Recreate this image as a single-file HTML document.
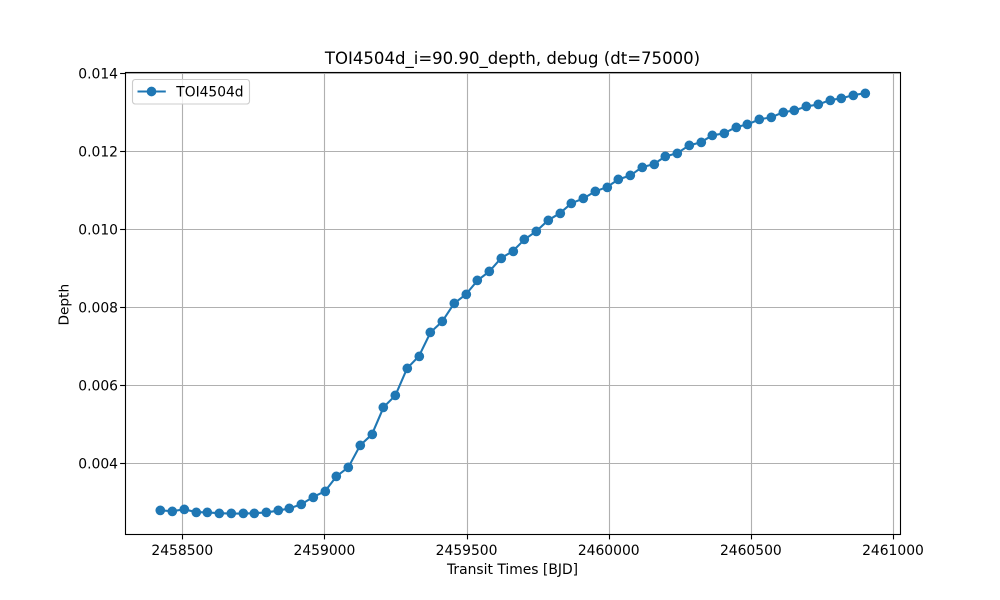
<!DOCTYPE html>
<html>
<head>
<meta charset="utf-8">
<title>TOI4504d depth chart</title>
<style>
html,body{margin:0;padding:0;background:#fff;}
svg{display:block;font-family:"DejaVu Sans","Liberation Sans",sans-serif;}
</style>
</head>
<body>
<svg id="chart" xmlns="http://www.w3.org/2000/svg" width="1000" height="600" viewBox="0 0 1000 600">
  <rect x="0" y="0" width="1000" height="600" fill="#ffffff"/>
  <rect x="125" y="72" width="775" height="462" fill="#ffffff"/>
  <g id="grid"></g>
  <g id="series"></g>
  <g id="ticks"></g>
  <rect x="125.5" y="72.5" width="775" height="462" fill="none" stroke="#000000" stroke-width="1.11"/>
  <text x="512.5" y="64" font-size="16.54" text-anchor="middle" fill="#000">TOI4504d_i=90.90_depth, debug (dt=75000)</text>
  <text x="512.5" y="574" font-size="13.89" text-anchor="middle" fill="#000">Transit Times [BJD]</text>
  <text transform="translate(68.5,304.7) rotate(-90)" font-size="13.7" text-anchor="middle" fill="#000">Depth</text>
  <g>
    <rect x="132.5" y="79.5" width="117" height="24.5" rx="2.8" ry="2.8" fill="#ffffff" fill-opacity="0.8" stroke="#cccccc" stroke-width="1.11"/>
    <line x1="137.5" y1="91.5" x2="165.8" y2="91.5" stroke="#1f77b4" stroke-width="2.08"/>
    <circle cx="151.5" cy="91.5" r="4.86" fill="#1f77b4"/>
    <text x="176.3" y="96.4" font-size="13.8" fill="#000">TOI4504d</text>
  </g>
</svg>
<script>
const transitTimes = [
  2458421.6, 2458462.9, 2458504.2, 2458545.5, 2458586.8, 2458628.2, 2458669.5, 2458710.8,
  2458752.1, 2458793.4, 2458834.7, 2458876.0, 2458917.3, 2458958.6, 2458999.9, 2459041.3,
  2459082.6, 2459123.9, 2459165.2, 2459206.5, 2459247.8, 2459289.1, 2459330.4, 2459371.7,
  2459413.0, 2459454.4, 2459495.7, 2459537.0, 2459578.3, 2459619.6, 2459660.9, 2459702.2,
  2459743.5, 2459784.8, 2459826.1, 2459867.5, 2459908.8, 2459950.1, 2459991.4, 2460032.7,
  2460074.0, 2460115.3, 2460156.6, 2460197.9, 2460239.2, 2460280.6, 2460321.9, 2460363.2,
  2460404.5, 2460445.8, 2460487.1, 2460528.4, 2460569.7, 2460611.0, 2460652.3, 2460693.7,
  2460735.0, 2460776.3, 2460817.6, 2460858.9, 2460900.2
];
const depthValues = [
  0.002795, 0.00277, 0.00282, 0.00275, 0.00274, 0.00272, 0.00271, 0.00271,
  0.00272, 0.00274, 0.002785, 0.002846, 0.00295, 0.003136, 0.00328, 0.00367,
  0.0039, 0.00446, 0.00474, 0.00544, 0.00574, 0.006436, 0.006744, 0.00736,
  0.00764, 0.0081, 0.00833, 0.00869, 0.00892, 0.00926, 0.00944, 0.00974,
  0.00995, 0.01023, 0.01041, 0.01067, 0.01079, 0.01097, 0.01108, 0.01128,
  0.01138, 0.01159, 0.01167, 0.01187, 0.01195, 0.01215, 0.01223, 0.01241,
  0.01246, 0.01262, 0.01269, 0.01282, 0.01287, 0.0130, 0.01305, 0.01315,
  0.0132, 0.01331, 0.01336, 0.01344, 0.01349
];
const xTickValues = [2458500, 2459000, 2459500, 2460000, 2460500, 2461000];
const yTickValues = [0.004, 0.006, 0.008, 0.010, 0.012, 0.014];
const xDomain = [2458297.4, 2461023.6];
const yDomain = [0.002187, 0.014033];

const NS = 'http://www.w3.org/2000/svg';
function xScale(v) { return 125 + (v - xDomain[0]) / (xDomain[1] - xDomain[0]) * 775; }
function yScale(v) { return 534 - (v - yDomain[0]) / (yDomain[1] - yDomain[0]) * 462; }
function snapMarkerX(px) { return Math.round(px) + 0.3; }
function snapMarkerY(px) { return Math.floor(px + 0.2) + 0.4; }
function snapTickX(px) { return Math.round(px - 0.3) + 0.5; }
function make(tag, attrs) {
  const el = document.createElementNS(NS, tag);
  for (const k in attrs) el.setAttribute(k, attrs[k]);
  return el;
}
const gridG = document.getElementById('grid');
const ticksG = document.getElementById('ticks');
const seriesG = document.getElementById('series');

xTickValues.forEach(function (v) {
  const x = snapTickX(xScale(v));
  const g = make('line', { x1: x, x2: x, y1: 72, y2: 534, stroke: '#b0b0b0', 'stroke-width': 1.11 });
  
  
  gridG.appendChild(g);
  const t = make('line', { x1: x, x2: x, y1: 534, y2: 539.4, stroke: '#000', 'stroke-width': 1.11 });
  
  
  ticksG.appendChild(t);
  const l = make('text', { x: xScale(v) - 0.3, y: 555, 'font-size': 13.89, 'text-anchor': 'middle', fill: '#000' });
  
  
  l.textContent = String(v);
  ticksG.appendChild(l);
});

yTickValues.forEach(function (v) {
  const y = Math.floor(yScale(v)) + 0.5;
  const g = make('line', { x1: 125, x2: 900, y1: y, y2: y, stroke: '#b0b0b0', 'stroke-width': 1.11 });
  
  
  gridG.appendChild(g);
  const t = make('line', { x1: 120.1, x2: 125, y1: y, y2: y, stroke: '#000', 'stroke-width': 1.11 });
  
  
  ticksG.appendChild(t);
  const l = make('text', { x: 118, y: yScale(v) + 5.1, 'font-size': 13.89, 'text-anchor': 'end', fill: '#000' });
  
  
  l.textContent = v.toFixed(3);
  ticksG.appendChild(l);
});

const pts = transitTimes.map(function (t, i) {
  return (xScale(t) + 0.2).toFixed(2) + ',' + yScale(depthValues[i]).toFixed(2);
}).join(' ');
const line = make('polyline', { points: pts, fill: 'none', stroke: '#1f77b4', 'stroke-width': 2.08, 'stroke-linejoin': 'round' });


seriesG.appendChild(line);
transitTimes.forEach(function (t, i) {
  const c = make('circle', { cx: snapMarkerX(xScale(t)), cy: snapMarkerY(yScale(depthValues[i])), r: 4.86, fill: '#1f77b4' });
  
  
  seriesG.appendChild(c);
});
</script>
</body>
</html>
